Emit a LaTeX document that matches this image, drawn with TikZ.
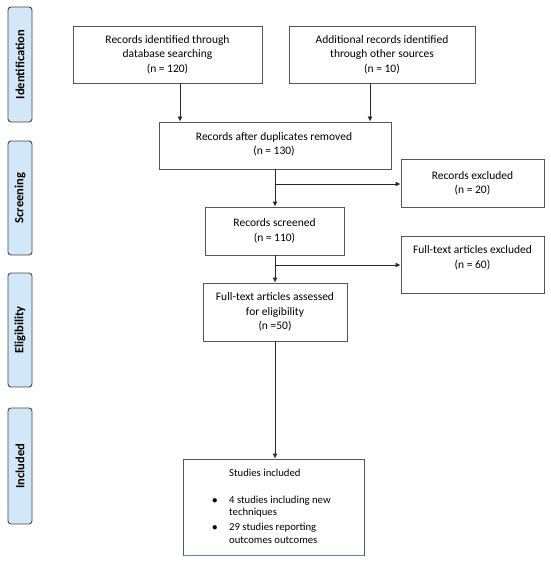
\documentclass[tikz,border=0pt]{standalone}
\usepackage{fontspec}
\setmainfont{Carlito}
\usetikzlibrary{arrows.meta}
\definecolor{sidefill}{RGB}{210,231,248}
\definecolor{sideline}{RGB}{70,70,70}
\definecolor{boxline}{RGB}{85,85,85}
\definecolor{blueline}{RGB}{80,140,190}
\tikzset{
  box/.style={draw=boxline, line width=0.9pt, fill=white, inner sep=0pt, align=center,
    font=\fontsize{11.5}{14.5}\selectfont},
  txt/.style={inner sep=0pt, align=center, font=\fontsize{11.5}{14.5}\selectfont},
  side/.style={draw=sideline, line width=0.9pt, fill=sidefill, rounded corners=3pt,
    minimum width=24pt, inner sep=0pt},
  sidetxt/.style={rotate=90, inner sep=0pt, font=\fontsize{12.5}{14}\selectfont\bfseries},
  arr/.style={draw=black!85, line width=0.9pt, -{Latex[length=5pt,width=5pt]}},
  ln/.style={draw=black!85, line width=0.9pt}
}
\begin{document}
\begin{tikzpicture}[x=1pt,y=-1pt]
\useasboundingbox (0,0) rectangle (550,561);
\fill[white] (0,0) rectangle (550,561);
% side labels
\node[side, minimum height=115pt] (sid) at (20,64.5) {};
\node[sidetxt] (sidt) at (sid.center) {Identification};
\node[side, minimum height=114pt] (sscr) at (20,198) {};
\node[sidetxt] (sscrt) at (sscr.center) {Screening};
\node[side, minimum height=114pt] (sel) at (20,330) {};
\node[sidetxt] (selt) at (sel.center) {Eligibility};
\node[side, minimum height=116pt] (sinc) at (20,466) {};
\node[sidetxt] (sinct) at (sinc.center) {Included};
% boxes
\node[box, minimum width=189pt, minimum height=57pt] (db) at (167.5,54.5) {Records identified through\\database searching\\(n = 120)};
\node[box, minimum width=186pt, minimum height=57pt] (oth) at (382,54.5) {Additional records identified\\through other sources\\(n = 10)};
\node[box, minimum width=232pt, minimum height=47pt] (dup) at (275,145.5) {};
\node[txt] (dupt) at (274,144.5) {Records after duplicates removed\\(n = 130)};
\node[box, minimum width=143pt, minimum height=48pt] (ex1) at (472.5,183.5) {Records excluded\\(n = 20)};
\node[box, minimum width=139pt, minimum height=48pt] (scr) at (274.5,231) {Records screened\\(n = 110)};
\node[box, minimum width=143pt, minimum height=57pt] (ex2) at (472.5,264.5) {};
\node[txt] (ex2t) at (472.5,258) {Full-text articles excluded\\(n = 60)};
\node[box, minimum width=144pt, minimum height=58pt] (full) at (275,312) {Full-text articles assessed\\for eligibility\\(n =50)};
\node[box, minimum width=181pt, minimum height=96pt] (inc) at (273.5,507) {};
\draw[blueline, line width=1.2pt] (inc.south west) -- (inc.south east);
\node[inner sep=0pt, anchor=north west, align=left, font=\fontsize{10.7}{12.5}\selectfont] (inct) at (207,467.5) {%
\begin{tabular}{@{}p{22pt}@{}l@{}}
 & Studies included\\[14.5pt]
\hspace{5pt}$\bullet$ & 4 studies including new\\
 & techniques\\[2.5pt]
\hspace{5pt}$\bullet$ & 29 studies reporting\\
 & outcomes outcomes
\end{tabular}};
% connectors
\draw[arr] (db.south -| 180,0) -- (dup.north -| 180,0);
\draw[arr] (oth.south -| 370,0) -- (dup.north -| 370,0);
\coordinate (b1) at (275,184);
\draw[arr] (dup.south -| b1) -- (scr.north -| b1);
\draw[arr] (b1) -- (ex1.west |- b1);
\coordinate (b2) at (275,265);
\draw[arr] (scr.south -| b2) -- (full.north -| b2);
\draw[arr] (b2) -- (ex2.west |- b2);
\draw[arr] (full.south -| b2) -- (inc.north -| b2);
\end{tikzpicture}
\end{document}
